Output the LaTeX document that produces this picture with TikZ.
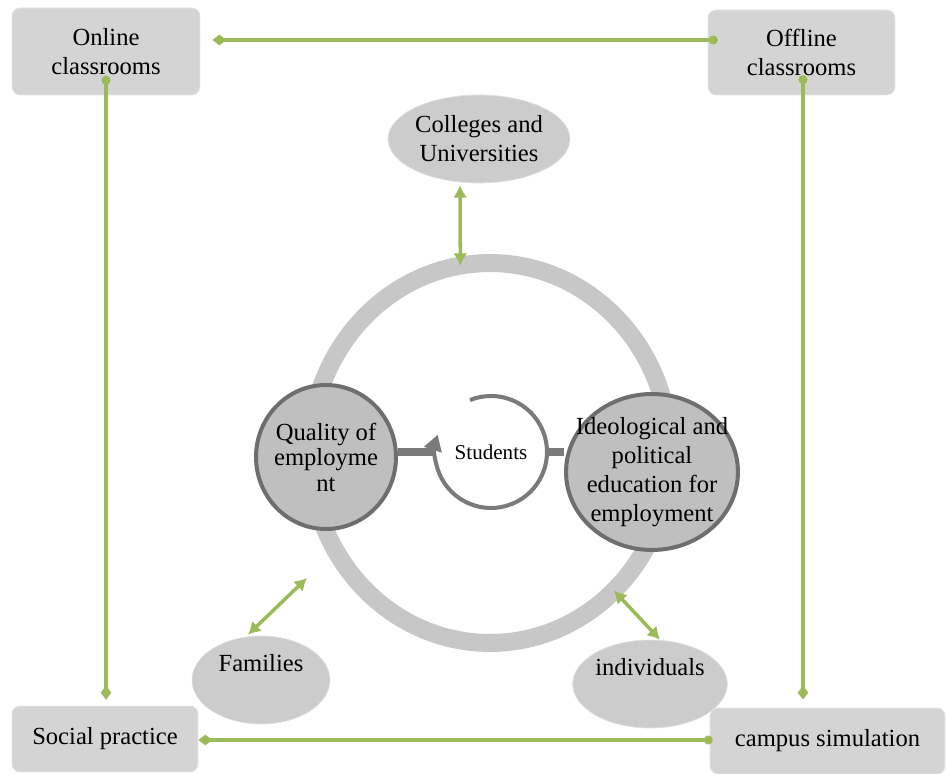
\documentclass[tikz,border=0pt]{standalone}
\usepackage{fontspec}
\setmainfont{Liberation Serif}
\usetikzlibrary{arrows.meta,shapes.geometric}
\definecolor{leaf}{RGB}{155,187,89}

\begin{document}
\begin{tikzpicture}[x=0.02cm, y=0.02cm,
		box/.style={draw=black!10, fill=black!17, rounded corners=0.16cm, align=center, font=\fontsize{14}{16.5}\selectfont},
		oval/.style={ellipse, draw=black!12, fill=black!20, inner sep=0pt, align=center, font=\fontsize{14}{16.5}\selectfont},
		hub/.style={ellipse, draw=black!57, line width=0.08cm, fill=black!25, inner ysep=0pt, align=center},
		link/.style={draw=leaf, line width=2.2pt},
		twoway/.style={draw=leaf, line width=2pt, {Latex[length=7pt,width=8pt]}-{Latex[length=7pt,width=8pt]}},
		bar/.style={draw=black!52, line width=4.5pt}]
				\useasboundingbox (0,0) rectangle (947,774);
				\node[box, minimum width=3.76cm, minimum height=1.74cm] (online) at (106,722.5) {Online\\classrooms};
				\node[box, minimum width=3.74cm, minimum height=1.70cm] (offline) at (801.5,721.5) {Offline\\classrooms};
				\node[box, minimum width=3.72cm, minimum height=1.32cm] (social) at (105,35) {Social practice};
				\node[box, minimum width=4.7cm, minimum height=1.32cm] (campus) at (827.5,33) {campus simulation};
				\draw[link, {Diamond[length=8pt,width=6pt]}-{Circle[length=5pt]}] ([shift={(12,11.5)}]online.east) -- ([shift={(10,12.5)}]offline.west);
				\draw[link, {Circle[length=5pt]}-{Diamond[length=8pt,width=6pt]}] ([shift={(0,19.5)}]online.south) -- ([shift={(1,6)}]social.north);
				\draw[link, {Circle[length=5pt]}-{Diamond[length=8pt,width=6pt]}] ([shift={(1.5,20)}]offline.south) -- ([shift={(-24.5,8)}]campus.north);
				\draw[link, {Diamond[length=8pt,width=6pt]}-{Circle[length=5pt]}] ([shift={(0,-1)}]social.east) -- ([shift={(3,1)}]campus.west);
				\node[ellipse, draw=black!22, line width=0.36cm, minimum width=7.2cm, minimum height=7.6cm, inner sep=0pt, outer sep=0pt] (ring) at (490,321) {};
				\node[oval, minimum width=3.64cm, minimum height=1.76cm] (colleges) at (479,635) {Colleges and\\Universities};
				\node[oval, minimum width=2.76cm, minimum height=1.76cm, text height=10pt, text depth=20pt] (families) at (261,94) {Families};
				\node[oval, minimum width=2.8cm, minimum height=1.76cm, text height=10pt, text depth=20pt] (indiv) at (650,90) {individuals};
				\coordinate (famend) at (307,196);
				\draw[twoway] ([shift={(-19,-2)}]colleges.south) -- (ring.99);
				\draw[twoway] ([shift={(-13,1)}]families.north) -- (famend);
				\draw[twoway] (ring.-48) -- ([shift={(10,0)}]indiv.north);
				\node[hub, inner xsep=-3pt, minimum width=2.8cm, minimum height=2.88cm, font=\fontsize{14}{14.5}\selectfont] (quality) at (326,317) {Quality of\\employme\\nt};
				\node[hub, inner xsep=-9pt, minimum width=3.44cm, minimum height=3.12cm, font=\fontsize{14}{16.5}\selectfont] (ideo) at (652,302) {Ideological and\\political\\education for\\employment};
				\node[circle, minimum size=2.24cm, inner sep=0pt, font=\fontsize{12}{14}\selectfont] (students) at (491,322) {Students};
				\draw[bar] (quality.east |- students.west) -- (students.west);
				\draw[bar] (students.east) -- (students.east -| ideo.west);
				\draw[black!52, line width=2.3pt, -{Triangle[length=9pt,width=10pt]}] ([shift={(112:56)}]students.center) arc[start angle=112, end angle=-198, radius=56];
			\end{tikzpicture}
\end{document}
